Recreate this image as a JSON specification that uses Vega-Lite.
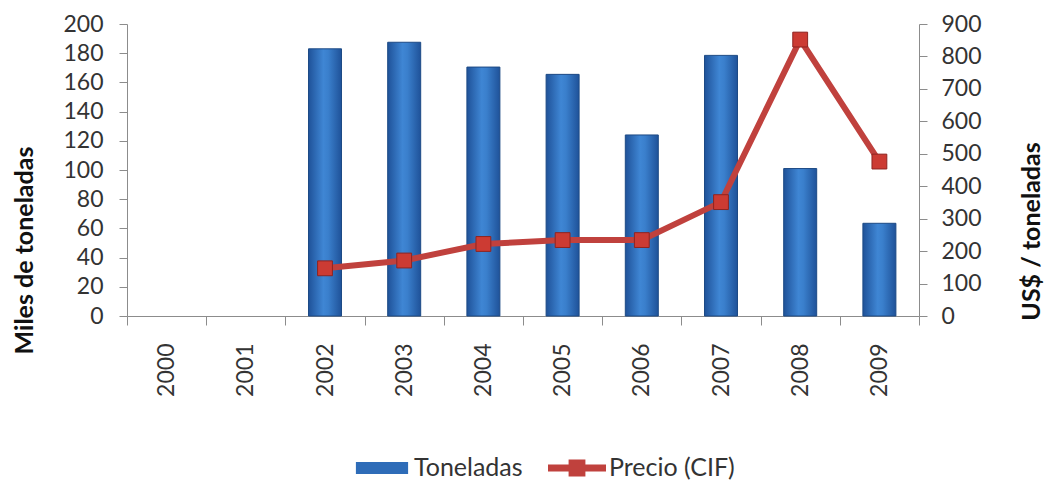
{
  "$schema": "https://vega.github.io/schema/vega-lite/v6.json",
  "autosize": "none",
  "width": 792,
  "height": 292,
  "padding": {"left": 127, "top": 24, "right": 126, "bottom": 165},
  "background": "white",
  "config": {
    "font": "Lato",
    "view": {"stroke": null},
    "axis": {"labelFont": "Lato", "titleFont": "Lato", "labelColor": "#333333", "titleColor": "#111111", "domainColor": "#8c8c8c", "tickColor": "#8c8c8c", "grid": false, "labelOverlap": false}
  },
  "data": {
    "values": [
      {"year": "2000", "ton": null, "precio": null},
      {"year": "2001", "ton": null, "precio": null},
      {"year": "2002", "ton": 183, "precio": 147},
      {"year": "2003", "ton": 187.5, "precio": 171},
      {"year": "2004", "ton": 170.5, "precio": 222},
      {"year": "2005", "ton": 165.5, "precio": 234},
      {"year": "2006", "ton": 124, "precio": 234},
      {"year": "2007", "ton": 178.5, "precio": 351},
      {"year": "2008", "ton": 101, "precio": 852},
      {"year": "2009", "ton": 63.5, "precio": 476}
    ]
  },
  "encoding": {
    "x": {
      "field": "year", "type": "ordinal",
      "scale": {"paddingInner": 0, "paddingOuter": 0},
      "axis": {"title": null, "labelAngle": 270, "labelFontSize": 23, "labelPadding": 18, "tickSize": 9, "tickBand": "extent", "labelAlign": "right", "labelBaseline": "middle"}
    }
  },
  "layer": [
    {
      "mark": {"type": "bar", "size": 33, "stroke": "#1d4a85", "strokeWidth": 1,
        "fill": {"gradient": "linear", "x1": 0, "x2": 1, "y1": 0, "y2": 0,
          "stops": [{"offset": 0, "color": "#1f5299"}, {"offset": 0.45, "color": "#3f86d4"}, {"offset": 0.6, "color": "#3a7fcc"}, {"offset": 1, "color": "#1f5299"}]}},
      "encoding": {
        "y": {"field": "ton", "type": "quantitative",
          "scale": {"domain": [0, 200], "nice": false},
          "axis": {"title": "Miles de toneladas", "values": [0,20,40,60,80,100,120,140,160,180,200], "labelFontSize": 23, "labelPadding": 16, "tickSize": 8, "titleFontSize": 25, "titleFontWeight": "bold", "titleAngle": 270, "titleX": -103, "titleY": 226, "titleAlign": "center", "titleBaseline": "middle"}
        }
      }
    },
    {
      "mark": {"type": "line", "color": "#c0413d", "strokeWidth": 6},
      "encoding": {"y": {"field": "precio", "type": "quantitative",
        "scale": {"domain": [0, 900], "nice": false, "zero": true},
        "axis": {"title": "US$ / toneladas", "orient": "right", "tickCount": 10, "values": [0,100,200,300,400,500,600,700,800,900], "labelOverlap": false, "labelFontSize": 23, "labelPadding": 14, "tickSize": 8, "titleFontSize": 25, "titleFontWeight": "bold", "titleAngle": 270, "titleX": 112, "titleY": 207, "titleAlign": "center", "titleBaseline": "middle"}}}
    },
    {
      "mark": {"type": "point", "shape": "square", "filled": true, "size": 220, "color": "#cc3b33", "stroke": "#8e2420", "strokeWidth": 1, "opacity": 1},
      "encoding": {"y": {"field": "precio", "type": "quantitative", "scale": {"domain": [0, 900], "nice": false}, "axis": null}}
    },
    {
      "transform": [{"fold": ["ton", "precio"], "as": ["k", "v"]},
        {"filter": "datum.year == '2002'"},
        {"calculate": "datum.k == 'ton' ? 'Toneladas' : 'Precio (CIF)'", "as": "series"}],
      "mark": {"type": "point", "filled": true, "opacity": 0},
      "encoding": {
        "y": {"value": 0},
        "color": {"field": "series", "type": "nominal",
          "scale": {"domain": ["Toneladas", "Precio (CIF)"], "range": ["#2e6cb8", "#c0413d"]},
          "legend": {"title": null, "orient": "none", "legendX": 226, "legendY": 415, "direction": "horizontal", "labelFont": "Lato", "labelFontSize": 25, "labelColor": "#333333", "symbolSize": 3364, "symbolOpacity": 1, "symbolStrokeWidth": 0, "columnPadding": 25, "labelOffset": 3}},
        "shape": {"field": "series", "type": "nominal",
          "scale": {"domain": ["Toneladas", "Precio (CIF)"], "range": ["M-0.9,-0.21H0.9V0.21H-0.9Z", "M-1,-0.12H1V0.12H-1Z M-0.29,-0.29H0.29V0.29H-0.29Z"]},
          "legend": {"title": null, "orient": "none", "legendX": 226, "legendY": 415, "direction": "horizontal", "labelFont": "Lato", "labelFontSize": 25, "labelColor": "#333333", "symbolSize": 3364, "symbolOpacity": 1, "symbolStrokeWidth": 0, "columnPadding": 25, "labelOffset": 3}}
      }
    }
  ],
  "resolve": {"scale": {"y": "independent"}}
}
